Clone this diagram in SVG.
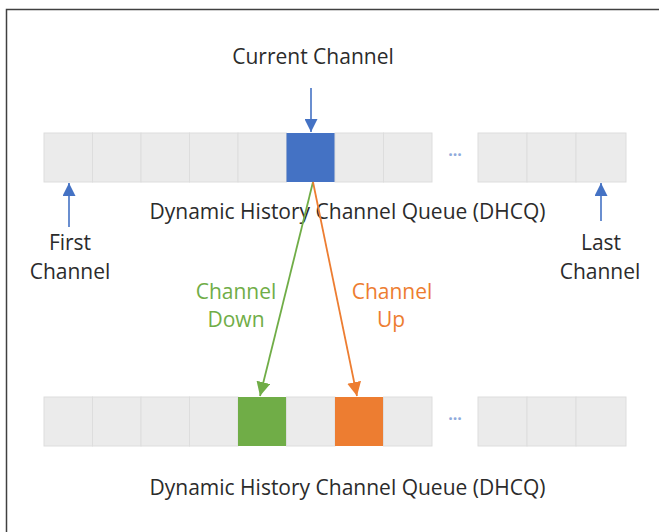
<svg xmlns="http://www.w3.org/2000/svg" width="659" height="532" viewBox="0 0 659 532">
<defs>
<style>
.cell{fill:#ebebeb;stroke:#dddddd;stroke-width:1}
.t{font-family:"Open Sans","Liberation Sans",sans-serif;font-size:21px;fill:#2b2b2b;text-anchor:middle}
.dots{font-family:"Open Sans","Liberation Sans",sans-serif;font-size:16px;fill:#8faadc;text-anchor:middle;font-weight:bold}
</style>
<marker id="ab" viewBox="0 0 10 10" refX="10" refY="5" markerWidth="13" markerHeight="13" markerUnits="userSpaceOnUse" orient="auto"><path d="M0,0 L10,5 L0,10 z" fill="#4472c4"/></marker>
<marker id="ag" viewBox="0 0 10 10" refX="10" refY="5" markerWidth="14" markerHeight="14" markerUnits="userSpaceOnUse" orient="auto"><path d="M0,0 L10,5 L0,10 z" fill="#70ad47"/></marker>
<marker id="ao" viewBox="0 0 10 10" refX="10" refY="5" markerWidth="14" markerHeight="14" markerUnits="userSpaceOnUse" orient="auto"><path d="M0,0 L10,5 L0,10 z" fill="#ed7d31"/></marker>
</defs>
<rect width="659" height="532" fill="#ffffff"/>
<path d="M6.5,532 V9.5 H659" fill="none" stroke="#404040" stroke-width="1.5"/>

<g id="queue-top">
<rect class="cell" x="44" y="133" width="48.5" height="49"/>
<rect class="cell" x="92.5" y="133" width="48.5" height="49"/>
<rect class="cell" x="141" y="133" width="48.5" height="49"/>
<rect class="cell" x="189.5" y="133" width="48.5" height="49"/>
<rect class="cell" x="238" y="133" width="48.5" height="49"/>
<rect x="286.5" y="133" width="48.5" height="49" fill="#4472c4"/>
<rect class="cell" x="335" y="133" width="48.5" height="49"/>
<rect class="cell" x="383.5" y="133" width="48.5" height="49"/>
<text class="dots" x="455" y="160">···</text>
<rect class="cell" x="478" y="133" width="49" height="49"/>
<rect class="cell" x="527" y="133" width="49" height="49"/>
<rect class="cell" x="576" y="133" width="50" height="49"/>
<text class="t" x="347.5" y="219">Dynamic History Channel Queue (DHCQ)</text>
</g>

<g id="queue-bottom">
<rect class="cell" x="44" y="397" width="48.5" height="49"/>
<rect class="cell" x="92.5" y="397" width="48.5" height="49"/>
<rect class="cell" x="141" y="397" width="48.5" height="49"/>
<rect class="cell" x="189.5" y="397" width="48.5" height="49"/>
<rect x="238" y="397" width="48.5" height="49" fill="#70ad47"/>
<rect class="cell" x="286.5" y="397" width="48.5" height="49"/>
<rect x="335" y="397" width="48.5" height="49" fill="#ed7d31"/>
<rect class="cell" x="383.5" y="397" width="48.5" height="49"/>
<text class="dots" x="455" y="424">···</text>
<rect class="cell" x="478" y="397" width="49" height="49"/>
<rect class="cell" x="527" y="397" width="49" height="49"/>
<rect class="cell" x="576" y="397" width="50" height="49"/>
<text class="t" x="347.5" y="495">Dynamic History Channel Queue (DHCQ)</text>
</g>

<g id="label-current"><text class="t" x="313" y="64">Current Channel</text></g>
<g id="label-first"><text class="t" x="70" y="250">First</text><text class="t" x="70" y="279">Channel</text></g>
<g id="label-last"><text class="t" x="601" y="250">Last</text><text class="t" x="600" y="279">Channel</text></g>
<g id="label-down"><text class="t" x="236" y="299" fill="#70ad47" style="fill:#70ad47">Channel</text><text class="t" x="236" y="327" style="fill:#70ad47">Down</text></g>
<g id="label-up"><text class="t" x="392" y="299" style="fill:#ed7d31">Channel</text><text class="t" x="391" y="327" style="fill:#ed7d31">Up</text></g>

<g id="connectors" fill="none" stroke-width="1.6">
<line x1="311" y1="88" x2="311" y2="132" stroke="#4472c4" marker-end="url(#ab)"/>
<line x1="69" y1="227" x2="69" y2="183" stroke="#4472c4" marker-end="url(#ab)"/>
<line x1="601" y1="221" x2="601" y2="183" stroke="#4472c4" marker-end="url(#ab)"/>
<line x1="313" y1="182" x2="260" y2="396" stroke="#70ad47" stroke-width="1.8" marker-end="url(#ag)"/>
<line x1="313" y1="182" x2="357" y2="396" stroke="#ed7d31" stroke-width="1.8" marker-end="url(#ao)"/>
</g>
</svg>
